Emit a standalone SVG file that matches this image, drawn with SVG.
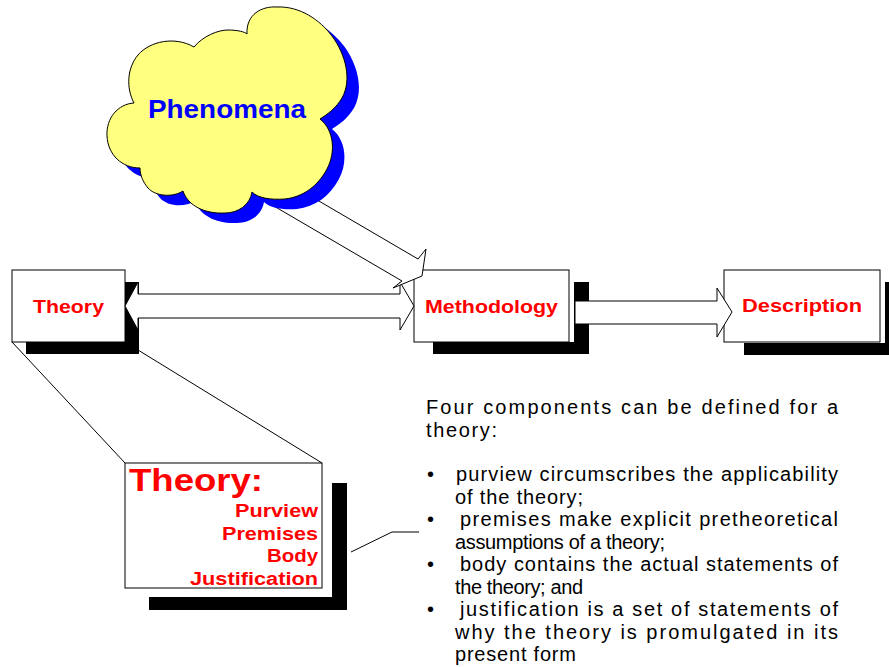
<svg xmlns="http://www.w3.org/2000/svg" width="889" height="667" viewBox="0 0 889 667">
<defs>
<style>
.box{fill:#fff;stroke:#000;stroke-width:1}
.shd{fill:#000}
.arr{fill:#fff;stroke:#000;stroke-width:1;stroke-linejoin:miter}
.ln{fill:none;stroke:#000;stroke-width:1}
.lbl{font-family:"Liberation Sans",Arial,sans-serif;font-weight:bold;fill:#ff0000}
.body{font-family:"Liberation Sans",Arial,sans-serif;font-size:20px;fill:#000}
</style>
<path id="cloudShape" d="M247,34 C246,14 262,6 277,7 C300,6 320,20 332,36 C346,55 352,80 342,98 C336,108 328,114 320,119 C334,130 336,152 327,169 C318,186 303,197 285,199 C270,200 258,198 252,192 C250,205 238,213 225,213 C205,214 188,206 183,191 C172,198 155,196 148,188 C143,182 140,175 140,168 C122,168 108,155 107,136 C106,118 118,104 134,103 C126,88 127,68 138,55 C150,41 175,36 194,47 C203,36 218,30 228,30 C238,30 245,32 247,34 Z"/>
</defs>
<rect width="889" height="667" fill="#fff"/>

<g id="connectors">
  <line class="ln" x1="12" y1="342" x2="125" y2="463"/>
  <line class="ln" x1="125" y1="342" x2="322" y2="463"/>
  <polyline class="ln" points="351,552 392,532 419,532"/>
</g>

<g id="theory">
  <rect class="shd" x="26" y="282" width="113" height="72"/>
  <rect class="box" x="12" y="270" width="113" height="72"/>
  <text class="lbl" x="33" y="313" font-size="19" textLength="71" lengthAdjust="spacingAndGlyphs">Theory</text>
</g>

<g id="methodology">
  <rect class="shd" x="574" y="282" width="15" height="72"/>
  <rect class="shd" x="433" y="342" width="156" height="12"/>
  <rect class="box" x="414" y="270" width="155" height="72"/>
  <text class="lbl" x="425" y="313" font-size="19" textLength="133" lengthAdjust="spacingAndGlyphs">Methodology</text>
</g>

<g id="description">
  <rect class="shd" x="885" y="282" width="15" height="73"/>
  <rect class="shd" x="744" y="343" width="156" height="12"/>
  <rect class="box" x="724" y="270" width="156" height="72"/>
  <text class="lbl" x="742" y="312" font-size="19" textLength="120" lengthAdjust="spacingAndGlyphs">Description</text>
</g>

<g id="arrows">
  <polygon class="arr" points="125,306 138,282 138,294 400,294 400,282 414,306 400,330 400,318 138,318 138,330"/>
  <polygon class="arr" points="575,301 717,301 717,288 732,312 717,337 717,324 575,324"/>
  <polygon class="arr" points="271,173 418,259 426,249 422,276 393,288 402,281 255,195"/>
</g>

<g id="phenomena">
  <use href="#cloudShape" transform="translate(12,10)" fill="#0000ff"/>
  <use href="#cloudShape" fill="#ffff80" stroke="#000" stroke-width="1"/>
  <text class="lbl" x="148" y="118" font-size="25" textLength="158" lengthAdjust="spacingAndGlyphs" style="fill:#0000ff">Phenomena</text>
</g>

<g id="theoryDetail">
  <rect class="shd" x="332" y="483" width="15" height="127"/>
  <rect class="shd" x="149" y="597" width="198" height="13"/>
  <rect class="box" x="125" y="463" width="197" height="125"/>
  <text class="lbl" x="129" y="491" font-size="31" textLength="134" lengthAdjust="spacingAndGlyphs">Theory:</text>
  <text class="lbl" x="235" y="517" font-size="18" textLength="83" lengthAdjust="spacingAndGlyphs">Purview</text>
  <text class="lbl" x="222" y="540" font-size="18" textLength="96" lengthAdjust="spacingAndGlyphs">Premises</text>
  <text class="lbl" x="267" y="562" font-size="18" textLength="51" lengthAdjust="spacingAndGlyphs">Body</text>
  <text class="lbl" x="190" y="585" font-size="18" textLength="128" lengthAdjust="spacingAndGlyphs">Justification</text>
</g>

<g id="notes" class="body">
  <text x="426" y="414" textLength="412" lengthAdjust="spacing">Four components can be defined for a</text>
  <text x="426" y="437" textLength="71" lengthAdjust="spacing">theory:</text>
  <text x="427" y="481">•</text>
  <text x="456" y="481" textLength="382" lengthAdjust="spacing">purview circumscribes the applicability</text>
  <text x="455" y="504" textLength="128" lengthAdjust="spacing">of the theory;</text>
  <text x="427" y="526">•</text>
  <text x="460" y="526" textLength="378" lengthAdjust="spacing">premises make explicit pretheoretical</text>
  <text x="455" y="549" textLength="210" lengthAdjust="spacing">assumptions of a theory;</text>
  <text x="427" y="571">•</text>
  <text x="460" y="571" textLength="378" lengthAdjust="spacing">body contains the actual statements of</text>
  <text x="455" y="594" textLength="128" lengthAdjust="spacing">the theory; and</text>
  <text x="427" y="616">•</text>
  <text x="460" y="616" textLength="378" lengthAdjust="spacing">justification is a set of statements of</text>
  <text x="455" y="639" textLength="383" lengthAdjust="spacing">why the theory is promulgated in its</text>
  <text x="455" y="661" textLength="121" lengthAdjust="spacing">present form</text>
</g>
</svg>
